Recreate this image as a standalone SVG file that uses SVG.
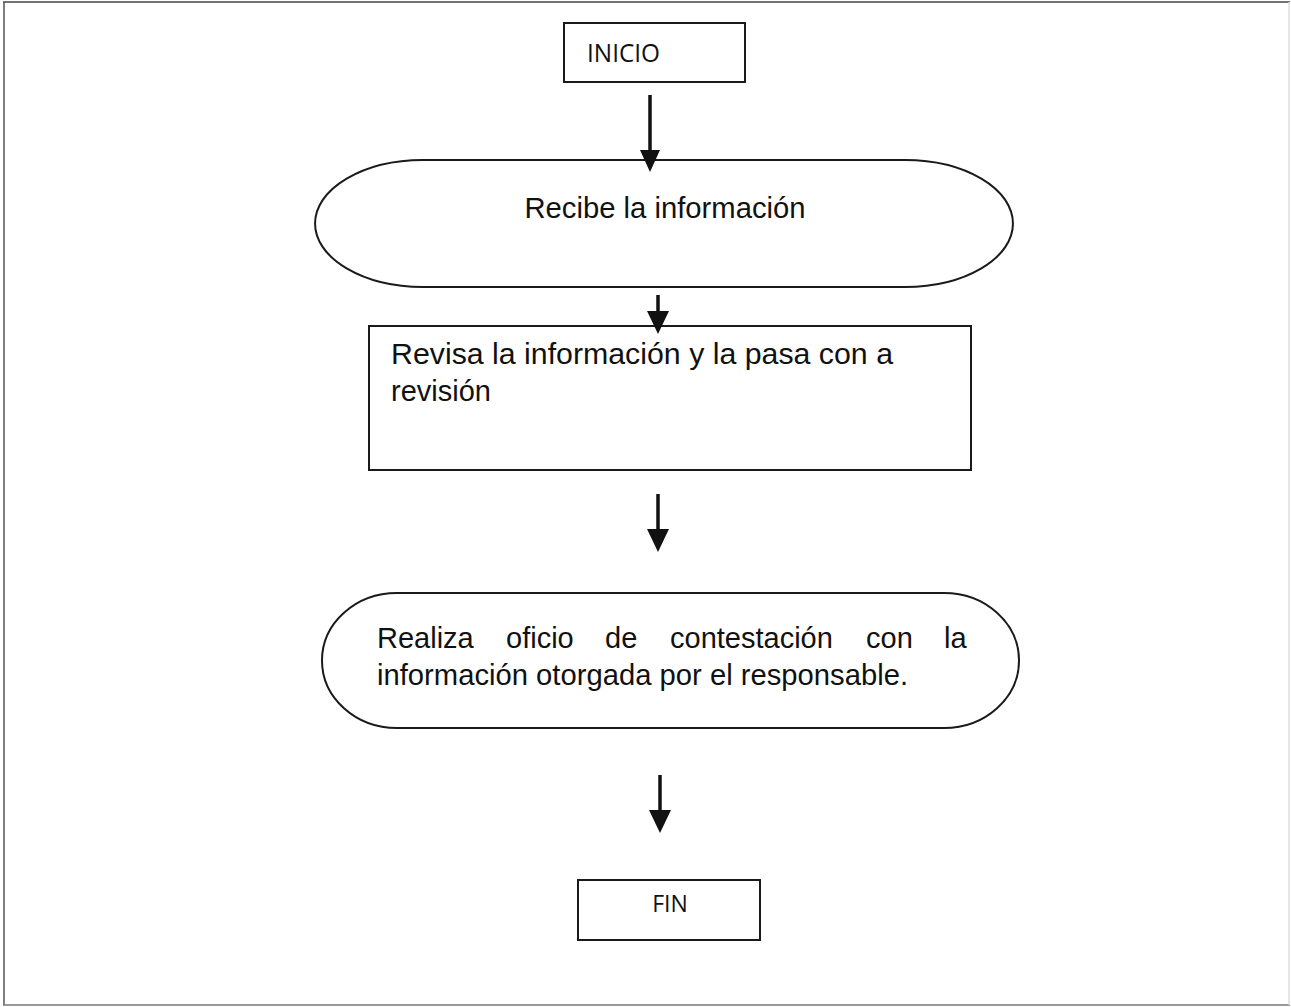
<svg xmlns="http://www.w3.org/2000/svg" width="1291" height="1007" viewBox="0 0 1291 1007">
<style>
.shape{fill:none;stroke:#1a1a1a;stroke-width:2}
.conn line{stroke:#111;stroke-width:3.5}
.conn polygon{fill:#111}
.t{font-family:"Liberation Sans",Arial,sans-serif;font-size:29px;fill:#111}
.c{font-family:"Open Sans","Liberation Sans",sans-serif;fill:#111}
</style>
<rect width="1291" height="1007" fill="#fff"/>
<g id="page-border" stroke-width="1.5">
<line x1="3" y1="2" x2="1290" y2="2" stroke="#444"/>
<line x1="4" y1="2" x2="4" y2="1005" stroke="#555"/>
<line x1="3" y1="1005" x2="1290" y2="1005" stroke="#777"/>
<line x1="1289" y1="2" x2="1289" y2="1005" stroke="#ddd"/>
</g>
<g id="n-inicio">
<rect class="shape" x="564" y="23" width="181" height="59"/>
<text class="c" x="587" y="62" font-size="25" textLength="73" lengthAdjust="spacingAndGlyphs">INICIO</text>
</g>
<g id="n-recibe">
<path class="shape" d="M423 160H905A108 63.5 0 0 1 905 287H423A108 63.5 0 0 1 423 160Z"/>
<text class="t" x="665" y="218" text-anchor="middle" textLength="281" lengthAdjust="spacingAndGlyphs">Recibe la información</text>
</g>
<g id="n-revisa">
<rect class="shape" x="369" y="326" width="602" height="144"/>
<text class="t" x="391" y="364" textLength="502" lengthAdjust="spacingAndGlyphs">Revisa la información y la pasa con a</text>
<text class="t" x="391" y="401">revisión</text>
</g>
<g id="n-realiza">
<path class="shape" d="M397 593H944A75 67.5 0 0 1 944 728H397A75 67.5 0 0 1 397 593Z"/>
<text class="t" y="648"><tspan x="377">Realiza</tspan><tspan x="506">oficio</tspan><tspan x="605">de</tspan><tspan x="670">contestación</tspan><tspan x="866">con</tspan><tspan x="944">la</tspan></text>
<text class="t" x="377" y="685" textLength="531" lengthAdjust="spacingAndGlyphs">información otorgada por el responsable.</text>
</g>
<g id="n-fin">
<rect class="shape" x="578" y="880" width="182" height="60"/>
<text class="c" x="670" y="912" font-size="23" text-anchor="middle">FIN</text>
</g>
<g id="connectors" class="conn">
<line x1="650" y1="95" x2="650" y2="152"/>
<polygon points="640,150 660,150 650,172"/>
<line x1="658" y1="295" x2="658" y2="313"/>
<polygon points="647,311 669,311 658,334"/>
<line x1="658" y1="494" x2="658" y2="531"/>
<polygon points="647,529 669,529 658,552"/>
<line x1="660" y1="775" x2="660" y2="812"/>
<polygon points="649,810 671,810 660,833"/>
</g>
</svg>
